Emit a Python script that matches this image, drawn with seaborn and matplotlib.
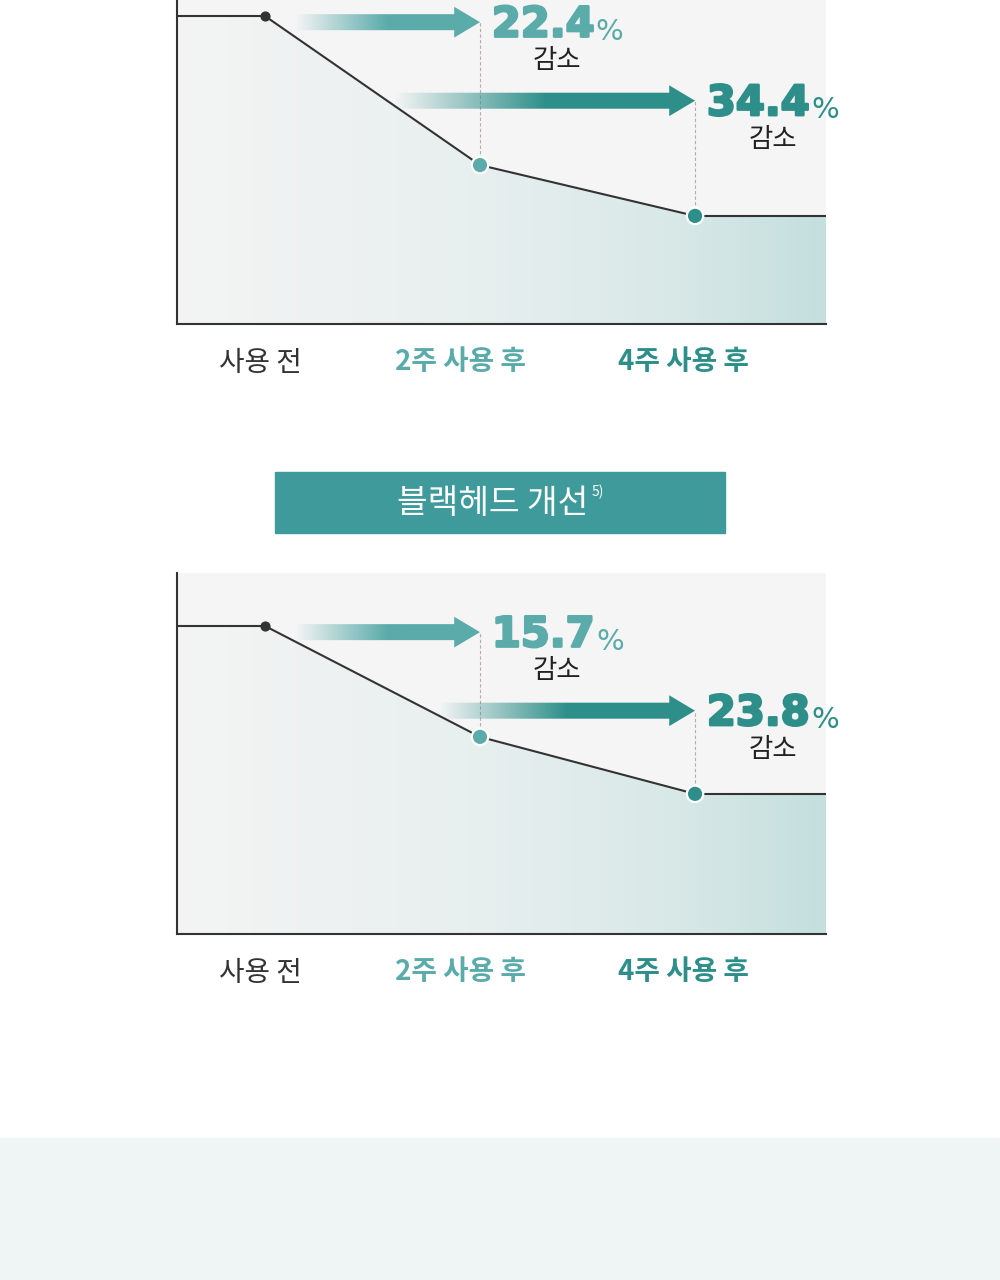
import numpy as np
import matplotlib
matplotlib.use("Agg")
import matplotlib.pyplot as plt
import seaborn as sns
from matplotlib.patches import FancyArrow, Rectangle, Polygon
from matplotlib.colors import LinearSegmentedColormap, to_rgb
import matplotlib.transforms as mtransforms
import matplotlib.patheffects as pe

# ---- data ----
stages = ['사용 전', '2주 사용 후', '4주 사용 후']
# relative level (사용 전 = 100), as drawn
levels_top = [100, 51.6, 35.1]
levels_bottom = [100, 64.0, 45.5]
drops_top = ['22.4', '34.4']
drops_bottom = ['15.7', '23.8']
drop_word = '감소'
panel_title = '블랙헤드 개선'
title_note = '5)'

TEAL_LIGHT = '#5aabaa'
TEAL_DARK = '#2e8f8a'
DARK = '#333333'
KR = ['Noto Sans CJK KR', 'DejaVu Sans']
NUM = ['DejaVu Sans']

sns.set_theme(style="white")
plt.rcParams['font.family'] = KR

W, H = 1000, 1280
fig = plt.figure(figsize=(10, 12.8), dpi=100)
fig.patch.set_facecolor('white')

XLIM = (-0.409, 2.609)
label_shift_px = [-5, -20, -12]
fill_cmap = LinearSegmentedColormap.from_list(
    'fillg', [(0, '#f4f4f4'), (0.45, '#e8efef'), (0.75, '#d9e9e8'), (1, '#c4dfde')])


def grad_arrow(ax, x_start, x_end, y, color):
    arr = FancyArrow(x_start, y, x_end - x_start, 0, width=5.2, head_width=10.0,
                     head_length=0.12, length_includes_head=True,
                     fc='none', ec='none')
    ax.add_patch(arr)
    n = 256
    img = np.zeros((1, n, 4))
    img[..., :3] = to_rgb(color)
    img[0, :, 3] = np.clip(np.linspace(0, 1, n) / 0.5, 0, 1)
    im = ax.imshow(img, extent=[x_start, x_end, y - 6, y + 6], aspect='auto',
                   zorder=4, interpolation='bilinear')
    im.set_clip_path(arr)


def draw_panel(ax, levels, drops, ytop, arrow_starts):
    xs = np.arange(len(levels))
    x0, x1 = XLIM
    ax.set_facecolor('#f5f5f5')

    # gradient area under the line
    poly = Polygon(np.column_stack([[x0, *xs, x1, x1, x0],
                                    [levels[0], *levels, levels[-1], 0, 0]]),
                   closed=True, fc='none', ec='none')
    ax.add_patch(poly)
    grad = np.linspace(0, 1, 256).reshape(1, -1)
    im = ax.imshow(grad, extent=[x0, x1, 0, ytop], aspect='auto', cmap=fill_cmap,
                   origin='lower', zorder=1, interpolation='bilinear')
    im.set_clip_path(poly)

    # line
    sns.lineplot(x=xs, y=levels, color=DARK, lw=1.5, ax=ax, zorder=3)
    ax.hlines(levels[0], x0, xs[0], color=DARK, lw=1.5, zorder=3)
    ax.hlines(levels[-1], xs[-1], x1, color=DARK, lw=1.5, zorder=3)

    # markers
    ax.scatter(xs[:1], levels[:1], s=40, color=DARK, zorder=6)
    sns.scatterplot(x=xs[1:], y=levels[1:], hue=stages[1:],
                    palette=[TEAL_LIGHT, TEAL_DARK], s=140, edgecolor='white',
                    linewidth=1.6, legend=False, ax=ax, zorder=6)

    # arrows + labels
    arrow_y = [98.0, 72.5]
    cols = [TEAL_LIGHT, TEAL_DARK]
    for i, (val, ay, c, xs0) in enumerate(zip(drops, arrow_y, cols, arrow_starts)):
        xt = xs[i + 1]
        grad_arrow(ax, xs0, xt, ay, c)
        ax.vlines(xt, levels[i + 1], ay, colors='#bba9ad', lw=0.8,
                  linestyles=(0, (3, 2)), zorder=2)
        t = ax.text(xt + 0.055, ay - 4.7, val, fontsize=30, fontweight='bold',
                    family=NUM, color=c, ha='left', va='baseline', zorder=7,
                    path_effects=[pe.withStroke(linewidth=1.8, foreground=c)])
        ax.annotate('%', xy=(1, 0), xycoords=t, xytext=(1, 0),
                    textcoords='offset points', fontsize=21, family=NUM,
                    color=c, ha='left', va='bottom', zorder=7)
        ax.text(xt + 0.36, ay - 12.6, drop_word, fontsize=19, color='#222222',
                ha='center', va='center', zorder=7)

    ax.set_xlim(XLIM)
    ax.set_ylim(0, ytop)
    ax.set_yticks([])
    ax.set_xticks(xs)
    ax.set_xticklabels(stages)
    ax.tick_params(axis='x', length=0, pad=17)
    for lbl, c, w, dx in zip(ax.get_xticklabels(), [DARK, TEAL_LIGHT, TEAL_DARK],
                             ['regular', 'bold', 'bold'], label_shift_px):
        lbl.set_color(c)
        lbl.set_fontweight(w)
        lbl.set_fontsize(20)
        shift = mtransforms.ScaledTranslation(dx / 100, 0, fig.dpi_scale_trans)
        lbl.set_transform(lbl.get_transform() + shift)
    for s in ['top', 'right']:
        ax.spines[s].set_visible(False)
    for s in ['left', 'bottom']:
        ax.spines[s].set_color(DARK)
        ax.spines[s].set_linewidth(1.5)
    ax.grid(False)


# top panel (its title lies above the picture)
ax1 = fig.add_axes([177 / W, 1 - 324 / H, 649 / W, 324 / H])
draw_panel(ax1, levels_top, drops_top, 105.2, [0.14, 0.6])

# bottom panel title box
fig.patches.append(Rectangle((275 / W, 1 - 533 / H), 450 / W, 61 / H,
                             transform=fig.transFigure, color='#3f9b9b', zorder=0))
tt = fig.text(493 / W, 1 - 503 / H, panel_title, color='white', fontsize=24,
              fontweight='medium', ha='center', va='center')
fig.canvas.draw()
bb = tt.get_window_extent(fig.canvas.get_renderer())
fig.text(bb.x1 / W + 0.003, bb.y1 / H + 0.001, title_note, color='white',
         fontsize=10, ha='left', va='top')

ax2 = fig.add_axes([177 / W, 1 - 934 / H, 649 / W, 361 / H])
draw_panel(ax2, levels_bottom, drops_bottom, 117.2, [0.14, 0.81])

# light band at the bottom of the page
fig.patches.append(Rectangle((0, 0), 1, 142 / H, transform=fig.transFigure,
                             color='#eff4f4', zorder=0))

fig.savefig('out.png', dpi=100, facecolor='white')
